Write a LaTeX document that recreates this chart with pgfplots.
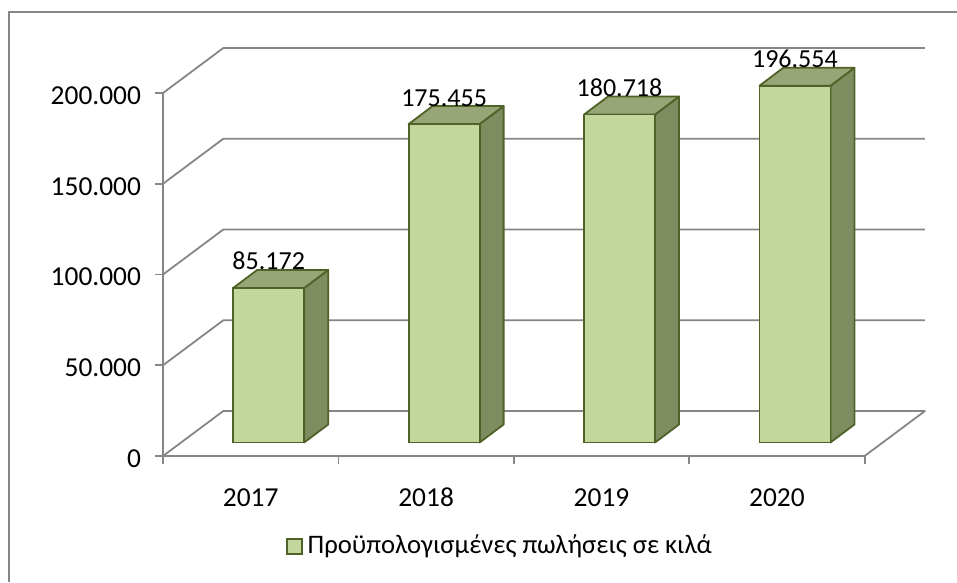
\documentclass[border=0pt]{standalone}
\usepackage{fontspec}
\setmainfont{Carlito}
\usepackage{pgfplots}
\pgfplotsset{compat=1.18}
\definecolor{gridgray}{HTML}{868686}
\definecolor{barfront}{HTML}{C3D69B}
\definecolor{bartop}{HTML}{98A677}
\definecolor{barside}{HTML}{7F8C60}
\definecolor{baredge}{HTML}{4F6228}
\newcommand{\tl}[1]{\hbox{\fontsize{27.4}{30}\selectfont #1}}
\pgfplotsset{
  wall/.style={gridgray, line width=1.8pt, forget plot, line join=round},
  face/.style={draw=baredge, fill=#1, line width=1.8pt, line join=round, forget plot, xshift=18pt, yshift=13.5pt},
}
\begin{document}
\begin{tikzpicture}
\useasboundingbox (-163pt,-126pt) rectangle (794pt,456pt);
\draw[gridgray, line width=1.2pt] (-153.8pt,444pt) -- (794pt,444pt);
\draw[gridgray, line width=2.3pt] (-153.8pt,-126pt) -- (-153.8pt,444.6pt);
\begin{axis}[
  at={(0pt,0pt)},
  scale only axis,
  width=701.6pt, height=363pt,
  xmin=-0.5, xmax=3.5, ymin=0, ymax=200000,
  clip=false,
  axis lines=left,
  axis line style={-, gridgray, line width=1.8pt},
  tick style={gridgray, line width=1.8pt},
  tick align=outside,
  major tick length=7.5pt,
  xtick={-0.5,0.5,1.5,2.5,3.5},
  xticklabels={},
  extra x ticks={0,1,2,3},
  extra x tick labels={\tl{2017},\tl{2018},\tl{2019},\tl{2020}},
  extra x tick style={major tick length=0pt, tick style={draw=none}},
  ytick={0,50000,100000,150000,200000},
  yticklabels={\tl{0},\tl{50.000},\tl{100.000},\tl{150.000},\tl{200.000}},
  scaled y ticks=false,
  tick label style={font=\fontsize{26}{30}\selectfont},
  xticklabel style={anchor=base, yshift=-50pt},
  yticklabel style={anchor=east, yshift=-2.5pt, xshift=-11pt},
  legend style={at={(0.4800,-0.245)}, anchor=center, draw=none, fill=none,
    font=\fontsize{26.7}{30}\selectfont, inner sep=0pt, column sep=3pt},
  legend cell align=left,
  legend image code/.code={\draw[baredge, fill=barfront, line width=1.8pt] (-3pt,-22.5pt) rectangle (12pt,-7.5pt);},
]
% walls and floor
\addplot[wall] coordinates {(-0.5,0) (-0.156,24793) (3.844,24793) (3.5,0)};
\addplot[wall] coordinates {(-0.5,50000) (-0.156,74793) (3.844,74793)};
\addplot[wall] coordinates {(-0.5,100000) (-0.156,124793) (3.844,124793)};
\addplot[wall] coordinates {(-0.5,150000) (-0.156,174793) (3.844,174793)};
\addplot[wall] coordinates {(-0.5,200000) (-0.156,224793) (3.844,224793)};
% 2017
\addplot[face=barside] coordinates {(0.2024,0) (0.3392,9917) (0.3392,95089) (0.2024,85172)} --cycle;
\addplot[face=bartop] coordinates {(-0.2024,85172) (0.2024,85172) (0.3392,95089) (-0.0656,95089)} --cycle;
% 2018
\addplot[face=barside] coordinates {(1.2024,0) (1.3392,9917) (1.3392,185372) (1.2024,175455)} --cycle;
\addplot[face=bartop] coordinates {(0.7976,175455) (1.2024,175455) (1.3392,185372) (0.9344,185372)} --cycle;
% 2019
\addplot[face=barside] coordinates {(2.2024,0) (2.3392,9917) (2.3392,190635) (2.2024,180718)} --cycle;
\addplot[face=bartop] coordinates {(1.7976,180718) (2.2024,180718) (2.3392,190635) (1.9344,190635)} --cycle;
% 2020
\addplot[face=barside] coordinates {(3.2024,0) (3.3392,9917) (3.3392,206471) (3.2024,196554)} --cycle;
\addplot[face=bartop] coordinates {(2.7976,196554) (3.2024,196554) (3.3392,206471) (2.9344,206471)} --cycle;
% front faces
\addplot[ybar, bar width=71pt, bar shift=0pt, draw=baredge, fill=barfront, line width=1.8pt, xshift=18pt, yshift=13.5pt]
  coordinates {(0,85172) (1,175455) (2,180718) (3,196554)};
\addlegendentry{Προϋπολογισμένες πωλήσεις σε κιλά}
% value labels
\addplot[draw=none, mark=none, forget plot, nodes near coords, point meta=explicit symbolic,
  nodes near coords style={anchor=base, xshift=18pt, yshift=31.5pt, font=\fontsize{26}{30}\selectfont, inner sep=0pt, black}]
  coordinates {(0,85172) [85.172] (1,175455) [175.455] (2,180718) [180.718] (3,196554) [196.554]};
\end{axis}
\end{tikzpicture}
\end{document}
